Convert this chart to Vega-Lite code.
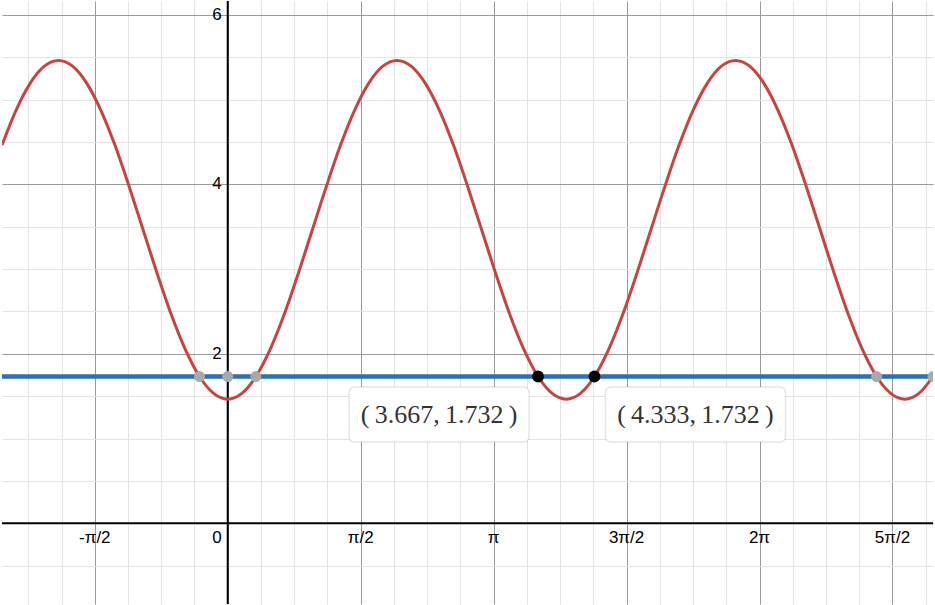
{
  "$schema": "https://vega.github.io/schema/vega-lite/v6.json",
  "width": 935,
  "height": 605,
  "padding": 0,
  "autosize": {"type": "fit", "contains": "padding"},
  "background": "white",
  "config": {"view": {"stroke": null}},
  "datasets": {
    "curve": [
      {"x": -2.667, "y": 4.4641}, {"x": -2.5, "y": 4.8783}, {"x": -2.333, "y": 5.1962}, {"x": -2.167, "y": 5.396},
      {"x": -2, "y": 5.4641}, {"x": -1.833, "y": 5.396}, {"x": -1.667, "y": 5.1962}, {"x": -1.5, "y": 4.8783},
      {"x": -1.333, "y": 4.4641}, {"x": -1.167, "y": 3.9817}, {"x": -1, "y": 3.4641}, {"x": -0.833, "y": 2.9465},
      {"x": -0.667, "y": 2.4641}, {"x": -0.5, "y": 2.0499}, {"x": -0.333, "y": 1.7321}, {"x": -0.167, "y": 1.5323},
      {"x": 0, "y": 1.4641}, {"x": 0.167, "y": 1.5323}, {"x": 0.333, "y": 1.7321}, {"x": 0.5, "y": 2.0499},
      {"x": 0.667, "y": 2.4641}, {"x": 0.833, "y": 2.9465}, {"x": 1, "y": 3.4641}, {"x": 1.167, "y": 3.9817},
      {"x": 1.333, "y": 4.4641}, {"x": 1.5, "y": 4.8783}, {"x": 1.667, "y": 5.1962}, {"x": 1.833, "y": 5.396},
      {"x": 2, "y": 5.4641}, {"x": 2.167, "y": 5.396}, {"x": 2.333, "y": 5.1962}, {"x": 2.5, "y": 4.8783},
      {"x": 2.667, "y": 4.4641}, {"x": 2.833, "y": 3.9817}, {"x": 3, "y": 3.4641}, {"x": 3.167, "y": 2.9465},
      {"x": 3.333, "y": 2.4641}, {"x": 3.5, "y": 2.0499}, {"x": 3.667, "y": 1.7321}, {"x": 3.833, "y": 1.5323},
      {"x": 4, "y": 1.4641}, {"x": 4.167, "y": 1.5323}, {"x": 4.333, "y": 1.7321}, {"x": 4.5, "y": 2.0499},
      {"x": 4.667, "y": 2.4641}, {"x": 4.833, "y": 2.9465}, {"x": 5, "y": 3.4641}, {"x": 5.167, "y": 3.9817},
      {"x": 5.333, "y": 4.4641}, {"x": 5.5, "y": 4.8783}, {"x": 5.667, "y": 5.1962}, {"x": 5.833, "y": 5.396},
      {"x": 6, "y": 5.4641}, {"x": 6.167, "y": 5.396}, {"x": 6.333, "y": 5.1962}, {"x": 6.5, "y": 4.8783},
      {"x": 6.667, "y": 4.4641}, {"x": 6.833, "y": 3.9817}, {"x": 7, "y": 3.4641}, {"x": 7.167, "y": 2.9465},
      {"x": 7.333, "y": 2.4641}, {"x": 7.5, "y": 2.0499}, {"x": 7.667, "y": 1.7321}, {"x": 7.833, "y": 1.5323},
      {"x": 8, "y": 1.4641}, {"x": 8.167, "y": 1.5323}, {"x": 8.333, "y": 1.7321}
    ],
    "points": [
      {"x": -0.333, "y": 1.732, "kind": "intersection"},
      {"x": 0, "y": 1.732, "kind": "intersection"},
      {"x": 0.333, "y": 1.732, "kind": "intersection"},
      {"x": 7.667, "y": 1.732, "kind": "intersection"},
      {"x": 8.333, "y": 1.732, "kind": "intersection"},
      {"x": 3.667, "y": 1.732, "kind": "selected"},
      {"x": 4.333, "y": 1.732, "kind": "selected"}
    ],
    "labels": [
      {"x": 3.667, "y": 1.732, "label": "(\u20093.667,\u20091.732\u2009)"},
      {"x": 4.333, "y": 1.732, "label": "(\u20094.333,\u20091.732\u2009)"}
    ],
    "xticks": [
      {"x": -1.5708, "y": 0, "label": "-π/2"},
      {"x": 1.5708, "y": 0, "label": "π/2"},
      {"x": 3.1416, "y": 0, "label": "π"},
      {"x": 4.7124, "y": 0, "label": "3π/2"},
      {"x": 6.2832, "y": 0, "label": "2π"},
      {"x": 7.854, "y": 0, "label": "5π/2"}
    ],
    "yticks": [
      {"x": 0, "y": 2, "label": "2"},
      {"x": 0, "y": 4, "label": "4"},
      {"x": 0, "y": 6, "label": "6"}
    ],
    "origin": [
      {"x": 0, "y": 0, "label": "0"}
    ]
  },
  "data": {"name": "curve"},
  "encoding": {
    "x": {
      "field": "x",
      "type": "quantitative",
      "scale": {"domain": [-2.667, 8.333], "nice": false, "zero": false},
      "axis": {
        "title": null, "labels": false, "ticks": false, "domain": false,
        "grid": true, "gridWidth": 1,
        "values": [-2.35619, -1.9635, -1.5708, -1.1781, -0.7854, -0.3927, 0, 0.3927, 0.7854, 1.1781, 1.5708, 1.9635, 2.35619, 2.74889, 3.14159, 3.53429, 3.92699, 4.31969, 4.71239, 5.10509, 5.49779, 5.89049, 6.28319, 6.67588, 7.06858, 7.46128, 7.85398, 8.24668],
        "gridColor": {"condition": {"test": "abs(datum.value/(PI/2) - round(datum.value/(PI/2))) < 0.01", "value": "#9a9a9a"}, "value": "#e3e3e3"}
      }
    },
    "y": {
      "field": "y",
      "type": "quantitative",
      "scale": {"domain": [-0.953, 6.165], "nice": false, "zero": false},
      "axis": {
        "title": null, "labels": false, "ticks": false, "domain": false,
        "grid": true, "gridWidth": 1,
        "values": [-0.5, 0, 0.5, 1, 1.5, 2, 2.5, 3, 3.5, 4, 4.5, 5, 5.5, 6],
        "gridColor": {"condition": {"test": "abs(datum.value/2 - round(datum.value/2)) < 0.01", "value": "#9a9a9a"}, "value": "#e3e3e3"}
      }
    }
  },
  "layer": [
    {
      "data": {"name": "origin"},
      "mark": {"type": "rule", "color": "#000000", "strokeWidth": 2},
      "encoding": {"y": null}
    },
    {
      "data": {"name": "origin"},
      "mark": {"type": "rule", "color": "#000000", "strokeWidth": 2},
      "encoding": {"x": null}
    },
    {
      "data": {"name": "xticks"},
      "mark": {"type": "text", "font": "Liberation Sans", "fontSize": 17, "fill": "#000000", "align": "center", "baseline": "middle", "dy": 15},
      "encoding": {"text": {"field": "label", "type": "nominal"}}
    },
    {
      "data": {"name": "yticks"},
      "mark": {"type": "text", "font": "Liberation Sans", "fontSize": 17, "fill": "#000000", "align": "right", "baseline": "middle", "dx": -6},
      "encoding": {"text": {"field": "label", "type": "nominal"}}
    },
    {
      "data": {"name": "origin"},
      "mark": {"type": "text", "font": "Liberation Sans", "fontSize": 17, "fill": "#000000", "align": "right", "baseline": "middle", "dx": -6, "dy": 15},
      "encoding": {"text": {"field": "label", "type": "nominal"}}
    },
    {
      "mark": {"type": "line", "color": "#c74440", "strokeWidth": 3, "interpolate": "monotone", "clip": true}
    },
    {
      "data": {"name": "labels"},
      "mark": {"type": "rule", "color": "#2d70b3", "strokeWidth": 4},
      "encoding": {"x": null}
    },
    {
      "data": {"name": "points"},
      "mark": {"type": "point", "filled": true, "opacity": 1, "clip": true},
      "encoding": {
        "color": {"field": "kind", "type": "nominal", "legend": null, "scale": {"domain": ["intersection", "selected"], "range": ["#a9a9a9", "#000000"]}},
        "size": {"field": "kind", "type": "nominal", "legend": null, "scale": {"domain": ["intersection", "selected"], "range": [120, 140]}}
      }
    },
    {
      "data": {"name": "labels"},
      "transform": [{"filter": "datum.x < 4"}],
      "layer": [
        {
          "mark": {"type": "point", "filled": true, "color": "white", "opacity": 1, "stroke": "#000000", "strokeOpacity": 0.1, "strokeWidth": 1.5, "size": 32400, "xOffset": -99, "yOffset": 38,
            "shape": "M-0.9333,-0.3056 L0.9333,-0.3056 Q1,-0.3056 1,-0.2389 L1,0.2389 Q1,0.3056 0.9333,0.3056 L-0.9333,0.3056 Q-1,0.3056 -1,0.2389 L-1,-0.2389 Q-1,-0.3056 -0.9333,-0.3056 Z"}
        },
        {
          "mark": {"type": "text", "font": "Liberation Serif", "fontSize": 26, "fill": "#333333", "align": "center", "baseline": "middle", "dx": -99, "dy": 38},
          "encoding": {"text": {"field": "label", "type": "nominal"}}
        }
      ]
    },
    {
      "data": {"name": "labels"},
      "transform": [{"filter": "datum.x > 4"}],
      "layer": [
        {
          "mark": {"type": "point", "filled": true, "color": "white", "opacity": 1, "stroke": "#000000", "strokeOpacity": 0.1, "strokeWidth": 1.5, "size": 32400, "xOffset": 101, "yOffset": 38,
            "shape": "M-0.9333,-0.3056 L0.9333,-0.3056 Q1,-0.3056 1,-0.2389 L1,0.2389 Q1,0.3056 0.9333,0.3056 L-0.9333,0.3056 Q-1,0.3056 -1,0.2389 L-1,-0.2389 Q-1,-0.3056 -0.9333,-0.3056 Z"}
        },
        {
          "mark": {"type": "text", "font": "Liberation Serif", "fontSize": 26, "fill": "#333333", "align": "center", "baseline": "middle", "dx": 101, "dy": 38},
          "encoding": {"text": {"field": "label", "type": "nominal"}}
        }
      ]
    }
  ]
}
